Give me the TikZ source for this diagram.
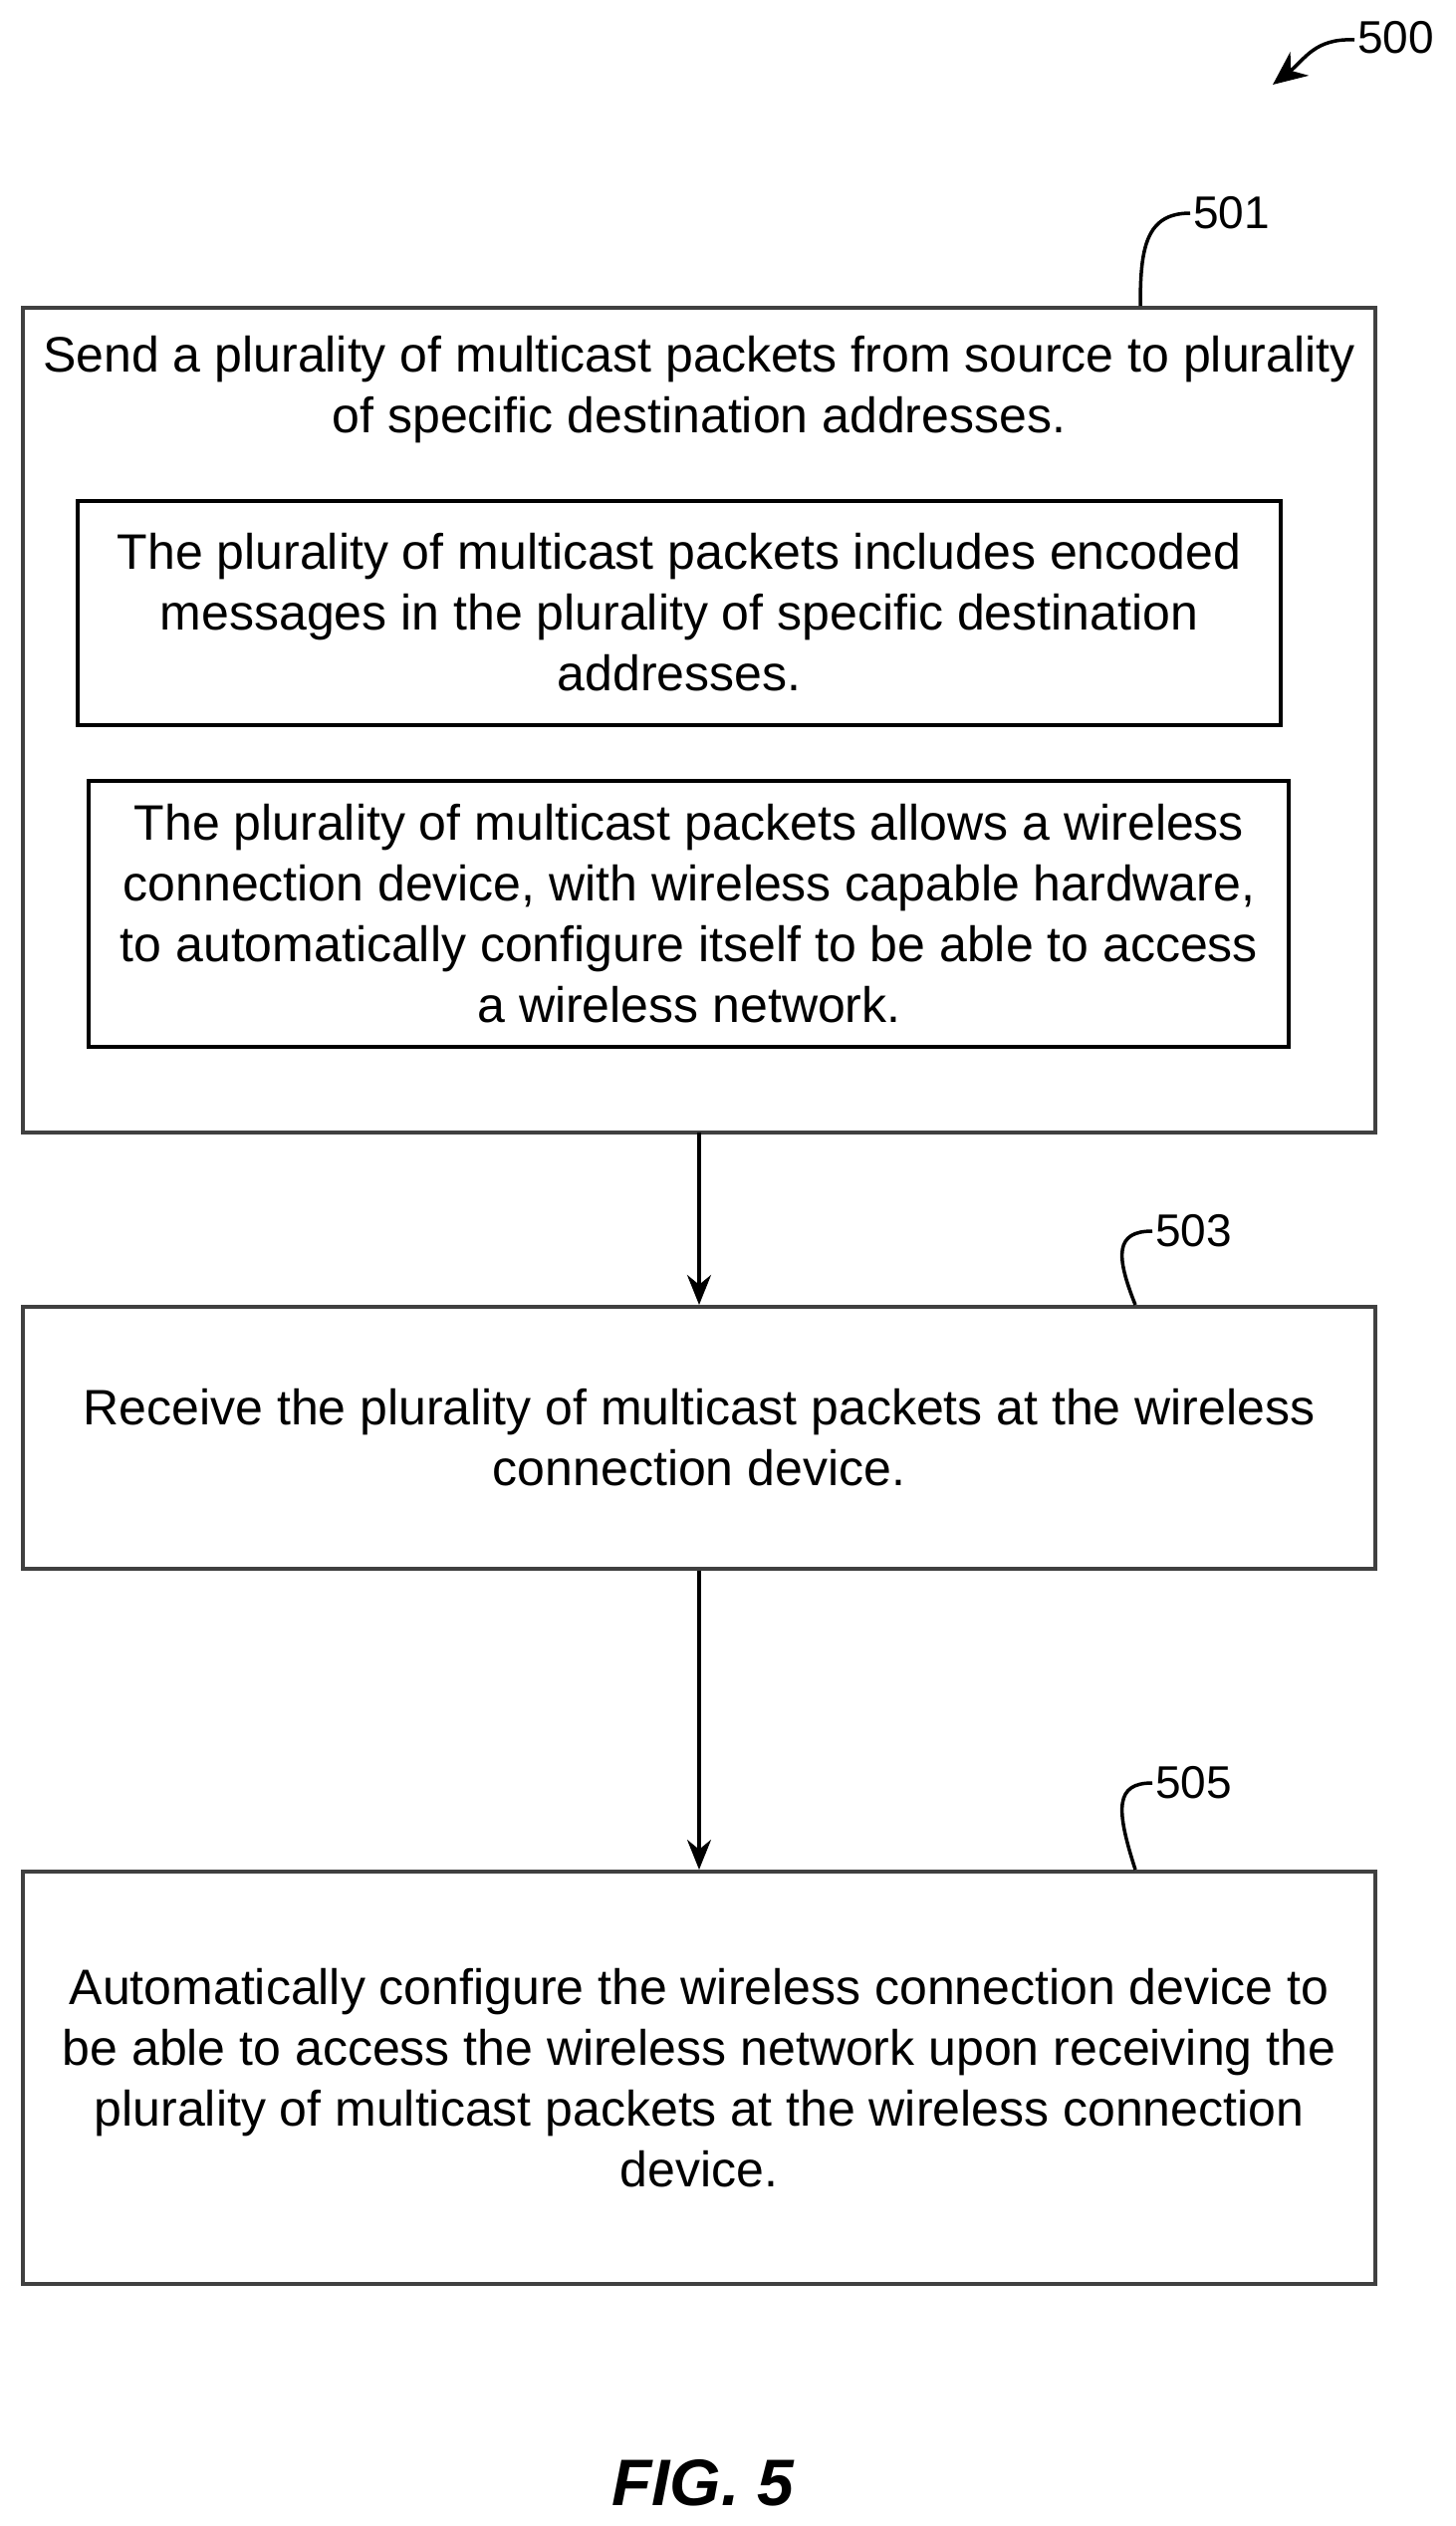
\documentclass[tikz,border=0pt]{standalone}
\usepackage{fontspec}
\setmainfont{Liberation Sans}
\usetikzlibrary{arrows.meta}
\begin{document}
\begin{tikzpicture}[x=1pt,y=-1pt,
  box/.style={draw=black!75,line width=4pt},
  ibox/.style={draw=black,line width=3.5pt},
  txt/.style={align=center,font=\fontsize{50}{61}\selectfont,inner sep=0pt},
  lbl/.style={font=\fontsize{46}{50}\selectfont,inner sep=0pt,anchor=west},
  arr/.style={line width=3.5pt,-{Stealth[length=30pt,width=24pt]}},
  lead/.style={line width=3.5pt}]
\path[use as bounding box] (0,0) rectangle (1462,2536);
% boxes
\draw[box] (23,309) rectangle (1381,1137);
\draw[ibox] (78,503) rectangle (1286,728);
\draw[ibox] (89,784) rectangle (1294,1051);
\node[box,minimum width=1358pt,minimum height=263pt,inner sep=0pt] (b503) at (702,1443.5) {};
\node[box,minimum width=1358pt,minimum height=414pt,inner sep=0pt] (b505) at (702,2086) {};
\coordinate (b501s) at (702,1137);
\node[txt] (t501) at (702,391) {Send a plurality of multicast packets from source to plurality\\of specific destination addresses.};
\node[txt] (t1) at (682,615) {The plurality of multicast packets includes encoded\\messages in the plurality of specific destination\\addresses.};
\node[txt] (t2) at (692,917) {The plurality of multicast packets allows a wireless\\connection device, with wireless capable hardware,\\to automatically configure itself to be able to access\\a wireless network.};
\node[txt] at (b503) {Receive the plurality of multicast packets at the wireless\\connection device.};
\node[txt] at (b505) {Automatically configure the wireless connection device to\\be able to access the wireless network upon receiving the\\plurality of multicast packets at the wireless connection\\device.};
\draw[arr] (b501s) -- (b503.north);
\draw[arr] (b503.south) -- (b505.north);
% labels
\node[lbl] (l500) at (1363,38) {500};
\draw[line width=3.5pt,-{Stealth[length=34pt,width=30pt]}] (1360,40) .. controls (1320,38) and (1310,60) .. (1278,85);
\node[lbl] (l501) at (1198,214) {501};
\draw[lead] (1145,307) .. controls (1145,250) and (1150,214) .. (1195,214);
\node[lbl] (l503) at (1160,1236) {503};
\draw[lead] (1140,1310) .. controls (1120,1260) and (1120,1236) .. (1157,1236);
\node[lbl] (l505) at (1160,1790) {505};
\draw[lead] (1140,1877) .. controls (1120,1815) and (1120,1790) .. (1157,1790);
\node[font=\fontsize{66}{70}\selectfont\bfseries\itshape,inner sep=0pt] (fig) at (706,2493) {FIG. 5};
\end{tikzpicture}
\end{document}
